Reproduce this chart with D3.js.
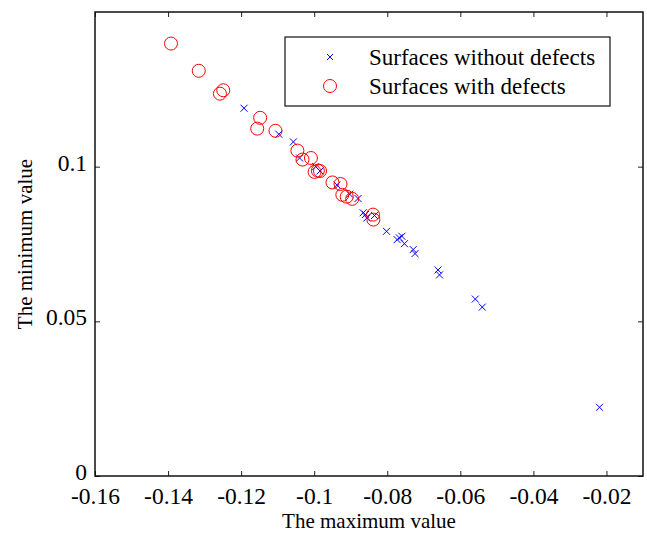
<!DOCTYPE html>
<meta charset="utf-8">
<script src="https://cdn.jsdelivr.net/npm/d3@7"></script>
<style>
body { margin: 0; background: #fff; }
svg text { font-family: "Liberation Serif", "Times New Roman", Times, "DejaVu Serif", serif !important; fill: #000; }
</style>
<body>
<script>

// Data: [maximum value, minimum value]
var withoutDefects = [
  [-0.1192, 0.1189], [-0.1097, 0.1105], [-0.1057, 0.1080], [-0.1040, 0.1028],
  [-0.0996, 0.1000], [-0.0984, 0.0986], [-0.0938, 0.0941], [-0.0903, 0.0911],
  [-0.0880, 0.0897], [-0.0866, 0.0851], [-0.0860, 0.0845], [-0.0856, 0.0834],
  [-0.0835, 0.0842], [-0.0802, 0.0791], [-0.0773, 0.0764], [-0.0767, 0.0770],
  [-0.0760, 0.0775], [-0.0753, 0.0751], [-0.0729, 0.0732], [-0.0724, 0.0719],
  [-0.0661, 0.0666], [-0.0657, 0.0650], [-0.0559, 0.0572], [-0.0540, 0.0546],
  [-0.0219, 0.0222]
];
var withDefects = [
  [-0.1392, 0.1398], [-0.1316, 0.1310], [-0.1258, 0.1236], [-0.1249, 0.1247],
  [-0.1148, 0.1158], [-0.1156, 0.1123], [-0.1106, 0.1116], [-0.1046, 0.1052],
  [-0.1032, 0.1023], [-0.1009, 0.1028], [-0.0999, 0.0983], [-0.0990, 0.0987],
  [-0.0984, 0.0986], [-0.0950, 0.0949], [-0.0928, 0.0944], [-0.0923, 0.0909],
  [-0.0911, 0.0903], [-0.0896, 0.0896], [-0.0839, 0.0845], [-0.0838, 0.0829]
];
var xTicks = [-0.16, -0.14, -0.12, -0.1, -0.08, -0.06, -0.04, -0.02];
var yTicks = [0, 0.05, 0.1];
var legendLabels = ["Surfaces without defects", "Surfaces with defects"];

var margin = {top: 12, right: 4, bottom: 60, left: 95},
    width = 643 - margin.left,
    height = 476 - margin.top;

var svg = d3.select("body").append("svg")
  .attr("width", 647)
  .attr("height", 536);

var g = svg.append("g")
  .attr("transform", "translate(" + margin.left + "," + margin.top + ")");

var x = d3.scaleLinear().domain([-0.16, -0.01]).range([0, width]);
var y = d3.scaleLinear().domain([0, 0.15]).range([height, 0]);

var fmt = function(d) { return d === 0 ? "0" : String(d); };

// axes, MATLAB style: inward ticks on all four sides
var tickLen = 5;
g.append("g")
  .attr("transform", "translate(0," + height + ")")
  .call(d3.axisBottom(x).tickValues(xTicks).tickFormat(fmt).tickSize(-tickLen).tickPadding(11))
  .call(s => s.select(".domain").remove())
  .selectAll("text").attr("font-size", "23.5px").attr("dy", "0.72em");
g.append("g")
  .call(d3.axisTop(x).tickValues(xTicks).tickFormat("").tickSize(-tickLen))
  .call(s => s.select(".domain").remove());
g.append("g")
  .call(d3.axisLeft(y).tickValues(yTicks).tickFormat(fmt).tickSize(-tickLen).tickPadding(8))
  .call(s => s.select(".domain").remove())
  .selectAll("text").attr("font-size", "23.5px").attr("dy", "0.15em");
g.append("g")
  .attr("transform", "translate(" + width + ",0)")
  .call(d3.axisRight(y).tickValues(yTicks).tickFormat("").tickSize(-tickLen))
  .call(s => s.select(".domain").remove());
g.selectAll(".tick line").attr("stroke", "#222").attr("stroke-width", 1);

g.append("rect")
  .attr("width", width).attr("height", height)
  .attr("fill", "none").attr("stroke", "#111").attr("stroke-width", 1.5);

// blue crosses
var cs = 3.5;
var crossPath = function(cx, cy, s) {
  return "M" + (cx - s) + "," + (cy - s) + "L" + (cx + s) + "," + (cy + s) +
         "M" + (cx - s) + "," + (cy + s) + "L" + (cx + s) + "," + (cy - s);
};
g.selectAll(".cross")
  .data(withoutDefects)
  .enter().append("path")
  .attr("class", "cross")
  .attr("d", d => crossPath(x(d[0]), y(d[1]), cs))
  .attr("stroke", "#0000ff").attr("stroke-width", 1).attr("fill", "none");

// red circles
g.selectAll(".circ")
  .data(withDefects)
  .enter().append("circle")
  .attr("class", "circ")
  .attr("cx", d => x(d[0]))
  .attr("cy", d => y(d[1]))
  .attr("r", 6.5)
  .attr("stroke", "#ff0000").attr("stroke-width", 1).attr("fill", "none");

// legend
var legend = svg.append("g").attr("transform", "translate(285,37)");
legend.append("rect")
  .attr("width", 325).attr("height", 69)
  .attr("fill", "#fff").attr("stroke", "#111").attr("stroke-width", 1.2);
legend.append("path")
  .attr("d", crossPath(45, 20, 3))
  .attr("stroke", "#0000ff").attr("fill", "none");
legend.append("circle")
  .attr("cx", 45).attr("cy", 49).attr("r", 6.5)
  .attr("stroke", "#ff0000").attr("fill", "none");
legend.selectAll(".ltext")
  .data(legendLabels)
  .enter().append("text")
  .attr("x", 84)
  .attr("y", (d, i) => 20 + i * 29)
  .attr("dy", "0.35em")
  .attr("font-size", "23px")
  .text(d => d);

// axis titles
svg.append("text")
  .attr("x", margin.left + width / 2)
  .attr("y", 528)
  .attr("text-anchor", "middle")
  .attr("font-size", "21px")
  .text("The maximum value");

svg.append("text")
  .attr("transform", "translate(32," + (margin.top + height / 2) + ") rotate(-90)")
  .attr("text-anchor", "middle")
  .attr("font-size", "21px")
  .text("The minimum value");

</script>
</body>
